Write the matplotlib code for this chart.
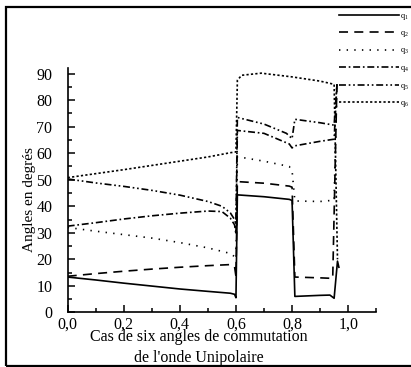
import matplotlib
matplotlib.use("Agg")
import matplotlib.pyplot as plt
from matplotlib.patches import Rectangle
from matplotlib.ticker import MultipleLocator, FuncFormatter

plt.rcParams['font.family'] = ['Liberation Serif', 'DejaVu Serif']
plt.rcParams['mathtext.fontset'] = 'custom'
plt.rcParams['mathtext.rm'] = 'Liberation Serif'
plt.rcParams['mathtext.it'] = 'Liberation Serif'
plt.rcParams['lines.scale_dashes'] = False

# switching angles (degrees) vs modulation case, unipolar wave, six angles
x_q1 = [0, 0.1, 0.2, 0.3, 0.4, 0.5, 0.58, 0.595, 0.6, 0.605, 0.7, 0.79, 0.8, 0.81, 0.9, 0.935, 0.95, 0.962, 0.967]
q1 = [13.3, 12.2, 11.0, 9.9, 8.8, 7.9, 7.2, 6.8, 5.5, 44.3, 43.6, 42.6, 42.2, 6.0, 6.4, 6.5, 5.3, 19.3, 17.0]

x_q2 = [0, 0.1, 0.2, 0.3, 0.4, 0.5, 0.58, 0.595, 0.6, 0.605, 0.7, 0.79, 0.8, 0.81, 0.9, 0.945, 0.96]
q2 = [13.6, 14.6, 15.5, 16.3, 17.0, 17.6, 18.0, 17.2, 13.5, 49.3, 48.7, 47.6, 47.2, 13.3, 13.0, 12.8, 86.0]

x_q3 = [0, 0.1, 0.2, 0.3, 0.4, 0.5, 0.58, 0.595, 0.6, 0.605, 0.7, 0.79, 0.8, 0.81, 0.9, 0.95, 0.96]
q3 = [32.0, 30.6, 29.3, 28.0, 26.3, 24.3, 22.2, 21.0, 20.0, 58.7, 57.0, 55.0, 53.5, 42.0, 41.8, 42.3, 86.0]

x_q4 = [0, 0.1, 0.2, 0.3, 0.4, 0.5, 0.55, 0.58, 0.595, 0.6, 0.605, 0.7, 0.79, 0.8, 0.81, 0.9, 0.95, 0.96]
q4 = [32.5, 33.8, 35.2, 36.4, 37.4, 38.2, 38.0, 35.5, 33.0, 29.5, 68.6, 67.5, 63.5, 62.0, 62.8, 64.5, 65.3, 86.0]

x_q5 = [0, 0.1, 0.2, 0.3, 0.4, 0.5, 0.55, 0.58, 0.595, 0.6, 0.605, 0.7, 0.78, 0.8, 0.81, 0.9, 0.95, 0.96]
q5 = [50.3, 48.8, 47.5, 46.0, 44.2, 41.8, 40.0, 37.5, 35.0, 33.0, 73.5, 71.0, 67.5, 65.5, 72.8, 71.5, 70.6, 86.0]

x_q6 = [0, 0.1, 0.2, 0.3, 0.4, 0.5, 0.58, 0.6, 0.605, 0.62, 0.69, 0.8, 0.9, 0.95, 0.962]
q6 = [50.8, 52.3, 53.8, 55.4, 57.0, 58.6, 60.2, 60.5, 87.5, 89.4, 90.2, 88.8, 87.2, 86.0, 20.0]

labels = ['$q_1$', '$q_2$', '$q_3$', '$q_4$', '$q_5$', '$q_6$']
styles = ['-', (0, (6.5, 4.5)), (0, (1, 4.5)), (0, (5, 2, 1.2, 2)),
          (0, (5, 2, 1.2, 2, 1.2, 2)), (0, (1.6, 1.6))]

fig = plt.figure(figsize=(4.11, 3.67), dpi=100)
ax = fig.add_axes([0.1647, 0.149, 0.7506, 0.6668])

series = [(x_q1, q1), (x_q2, q2), (x_q3, q3), (x_q4, q4), (x_q5, q5), (x_q6, q6)]
for (xs, ys), ls, lab in zip(series, styles, labels):
    ax.plot(xs, ys, color='black', lw=1.2, linestyle=ls, label=lab)

ax.set_xlim(0, 1.1)
ax.set_ylim(0, 92.3)
ax.spines['top'].set_visible(False)
ax.spines['right'].set_visible(False)
ax.spines['left'].set_linewidth(1.2)
ax.spines['bottom'].set_linewidth(1.2)

ax.xaxis.set_major_locator(MultipleLocator(0.2))
ax.xaxis.set_minor_locator(MultipleLocator(0.1))
ax.yaxis.set_major_locator(MultipleLocator(10))
ax.yaxis.set_minor_locator(MultipleLocator(5))
ax.xaxis.set_major_formatter(FuncFormatter(lambda v, p: f"{v:.1f}".replace('.', ',')))
ax.tick_params(which='both', direction='in', width=1.1, labelsize=11.5)
ax.tick_params(which='major', length=5)
ax.tick_params(which='minor', length=3)
ax.tick_params(axis='y', pad=11)
ax.tick_params(axis='x', pad=3)

fig.text(30 / 411, 1 - 200 / 367, 'Angles en degrés', rotation=90,
         ha='center', va='center', fontsize=11)
fig.text(199 / 411, 1 - 337 / 367, 'Cas de six angles de commutation',
         ha='center', va='center', fontsize=11.5)
fig.text(199 / 411, 1 - 358 / 367, "de l'onde Unipolaire",
         ha='center', va='center', fontsize=11.5)

ax.legend(loc='upper left', bbox_to_anchor=(336 / 411, 1 - 9 / 367),
          bbox_transform=fig.transFigure, frameon=False, fontsize=6,
          handlelength=7.2, handletextpad=0.2, labelspacing=0.9,
          borderaxespad=0, borderpad=0.3)

# outer frame
fig.patches.append(Rectangle((6 / 411, 1 / 367), 1.2, 1 - 8 / 367,
                             transform=fig.transFigure, fill=False,
                             edgecolor='black', lw=1.6))

fig.savefig('out.png', dpi=100)
